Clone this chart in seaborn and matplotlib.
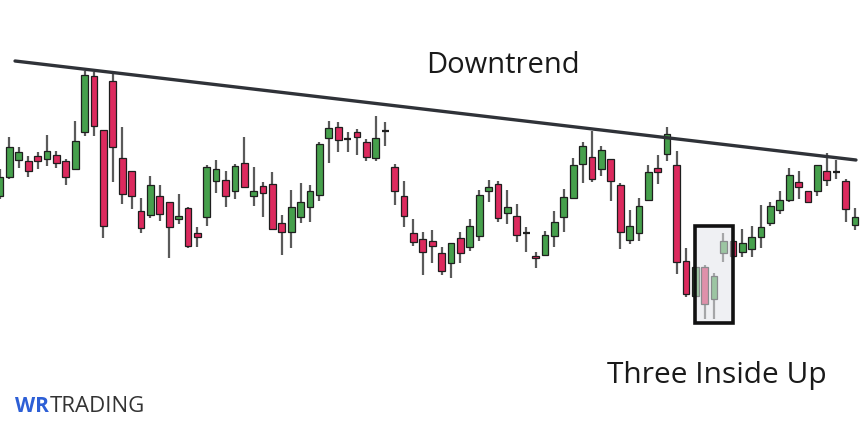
import numpy as np
import pandas as pd
import matplotlib
matplotlib.use("Agg")
import matplotlib.pyplot as plt
from matplotlib.patches import Rectangle
import seaborn as sns

# ---------------- DATA ----------------
opens = [234, 253, 270, 269, 274, 271, 275, 269, 261, 298,
         354, 300, 349, 272, 259, 219, 215, 234, 228, 211,
         222, 197, 213, 249, 250, 239, 267, 234, 244, 246,
         207, 198, 213, 223, 235, 292, 303, 291, 298, 288,
         272, 299, 263, 234, 197, 191, 189, 177, 167, 192,
         183, 194, 239, 246, 217, 214, 197, 174, 175, 194,
         213, 232, 266, 273, 261, 271, 245, 190, 197, 230,
         262, 276, 265, 169, 134, 163, 131, 177, 189, 178,
         181, 193, 207, 220, 230, 248, 239, 239, 259, 258,
         249, 205]
highs = [261, 293, 283, 274, 278, 295, 279, 271, 309, 359,
         358, 300, 357, 303, 259, 232, 254, 245, 228, 236,
         223, 203, 265, 270, 259, 266, 293, 263, 248, 258,
         215, 240, 247, 245, 288, 309, 308, 298, 301, 291,
         314, 308, 266, 249, 211, 198, 200, 183, 187, 198,
         211, 240, 250, 249, 240, 226, 203, 178, 199, 219,
         241, 272, 288, 299, 284, 271, 247, 220, 232, 265,
         275, 303, 279, 182, 163, 165, 157, 197, 191, 201,
         204, 225, 228, 239, 262, 259, 239, 265, 277, 270,
         251, 222]
lows = [231, 251, 262, 253, 261, 264, 262, 245, 261, 294,
        294, 192, 248, 226, 221, 197, 212, 209, 172, 206,
        182, 183, 204, 237, 223, 231, 243, 224, 213, 200,
        175, 182, 207, 208, 229, 267, 278, 278, 275, 269,
        269, 284, 225, 203, 184, 155, 167, 155, 152, 167,
        179, 189, 228, 208, 206, 188, 178, 162, 174, 183,
        198, 232, 247, 248, 254, 229, 181, 186, 189, 230,
        246, 269, 156, 133, 134, 111, 111, 168, 172, 173,
        173, 182, 204, 216, 228, 231, 228, 234, 244, 251,
        208, 200]
closes = [253, 283, 278, 259, 269, 279, 267, 253, 289, 355,
          304, 204, 283, 236, 234, 202, 245, 216, 203, 214,
          184, 193, 263, 261, 234, 264, 243, 239, 237, 201,
          198, 223, 228, 239, 286, 302, 290, 291, 293, 273,
          292, 299, 239, 214, 188, 178, 184, 159, 187, 177,
          204, 235, 243, 212, 223, 195, 197, 172, 195, 208,
          233, 265, 284, 251, 280, 249, 198, 204, 224, 258,
          258, 296, 168, 136, 163, 126, 154, 189, 174, 187,
          193, 203, 224, 230, 255, 243, 228, 265, 250, 258,
          221, 213]

trend_x = [1.6, 91.1]
trend_y = [369, 270]

pattern_first, pattern_last = 74, 78
title_main = "Downtrend"
title_pattern = "Three Inside Up"
brand_a, brand_b = "WR", "TRADING"

# ---------------- PLOT ----------------
sns.set_theme(style="white")
plt.rcParams['font.family'] = ['Open Sans', 'DejaVu Sans']

df = pd.DataFrame({"open": opens, "high": highs, "low": lows, "close": closes})
df["idx"] = np.arange(len(df))

GREEN = "#46a04c"
RED = "#dc2a5e"
EDGE = "#1e1e1e"
WICK = "#5a5a5a"

fig = plt.figure(figsize=(8.6, 4.31), dpi=100)
ax = fig.add_axes([0, 0, 1, 1])
ax.set_xlim(0, 860 / 9.396)
ax.set_ylim(0, 431)
ax.axis("off")

w = 0.72
# wicks
ax.vlines(df["idx"], df["low"], df["high"], color=WICK, lw=1.6, zorder=1)
for _, r in df.iterrows():
    o, c = r["open"], r["close"]
    if o == c:
        ax.hlines(o, r["idx"] - w / 2, r["idx"] + w / 2, color=EDGE, lw=1.6, zorder=2)
        continue
    col = GREEN if c > o else RED
    lo, hi = min(o, c), max(o, c)
    ax.bar(r["idx"], hi - lo, bottom=lo, width=w, color=col,
           edgecolor=EDGE, linewidth=0.9, zorder=2)

# trend line
sns.lineplot(x=trend_x, y=trend_y, ax=ax, color="#2f3238", lw=2.4, zorder=3)

# pattern box
sub = df.iloc[pattern_first:pattern_last + 1]
y0 = sub["low"].min() - 4
y1 = sub["high"].max() + 7
ax.add_patch(Rectangle((pattern_first, y0), pattern_last - pattern_first, y1 - y0,
                       facecolor="#e3e5ea", alpha=0.55, edgecolor="none", zorder=4))
ax.add_patch(Rectangle((pattern_first, y0), pattern_last - pattern_first, y1 - y0,
                       facecolor="none", edgecolor="#111111", lw=2.6, zorder=5))

ax.text(0.585, 0.847, title_main, transform=ax.transAxes, ha="center", va="center",
        fontsize=21, color="#1a1a1a")
ax.text(0.834, 0.128, title_pattern, transform=ax.transAxes, ha="center", va="center",
        fontsize=21.5, color="#1a1a1a")

t1 = ax.text(0.017, 0.056, brand_a, transform=ax.transAxes, ha="left", va="center",
             fontsize=15, fontweight="bold", color="#2d5fd6")
ax.annotate(brand_b, xy=(1, 0.5), xycoords=t1, ha="left", va="center",
            fontsize=16, color="#333333", xytext=(1, 0), textcoords="offset points")

fig.savefig("out.png", dpi=100)
